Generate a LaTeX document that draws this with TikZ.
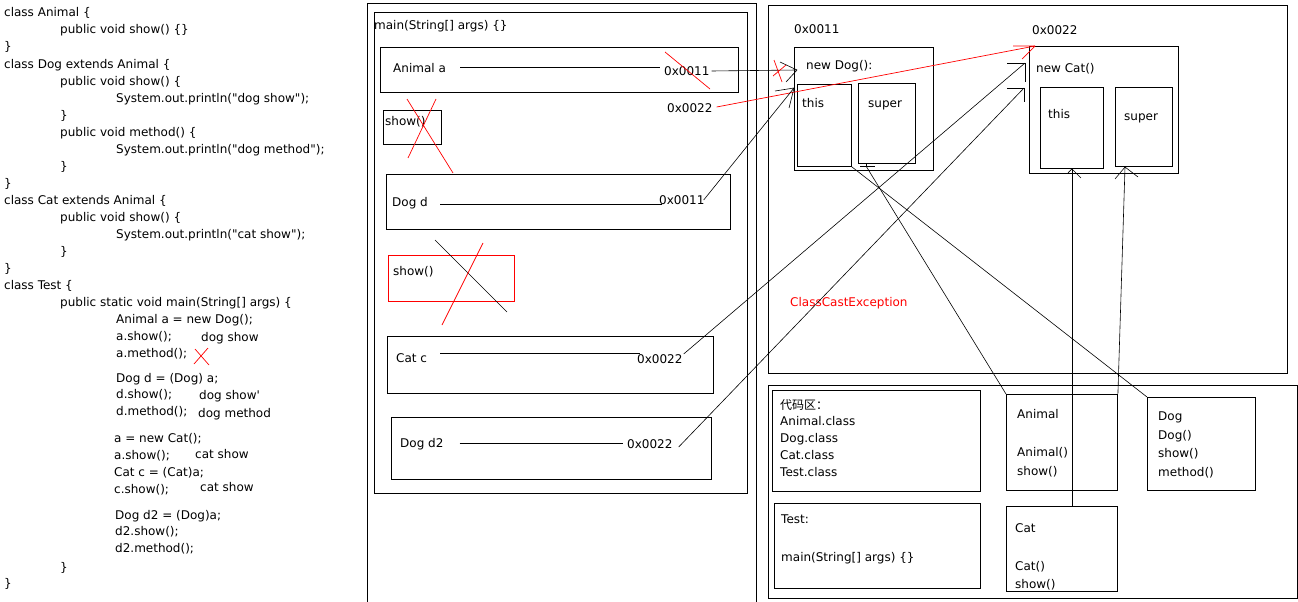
\documentclass[tikz,border=0pt]{standalone}
\usepackage{fontspec}
\setmainfont{DejaVu Sans}
\newfontfamily\cjkfont{Noto Sans CJK SC}
\begin{document}
\begin{tikzpicture}[x=1pt,y=-1pt,font=\fontsize{12}{14}\selectfont]

      \tikzset{box/.style={draw, line width=.9pt, inner sep=0pt, anchor=north west},
               redbox/.style={box, draw=red},
               txt/.style={inner sep=0pt, anchor=base west, text height=9pt, text depth=3pt},
               conn/.style={line width=.6pt},
               redconn/.style={line width=.7pt, red}}
      \useasboundingbox (0,0) rectangle (1298,602);
% Code
	%classes
      	\node[txt] (c1) at (4,17) {class Animal \{};
      	\node[txt] (c2) at (60,34) {public void show() \{\}};
      	\node[txt] (c3) at (4,51) {\}};
      	\node[txt] (c4) at (4,68) {class Dog extends Animal \{};
      	\node[txt] (c5) at (60,85) {public void show() \{};
      	\node[txt] (c6) at (116,102) {System.out.println(\textquotedbl dog show\textquotedbl);};
      	\node[txt] (c7) at (60,119) {\}};
      	\node[txt] (c8) at (60,136) {public void method() \{};
      	\node[txt] (c9) at (116,153) {System.out.println(\textquotedbl dog method\textquotedbl);};
      	\node[txt] (c10) at (60,170) {\}};
      	\node[txt] (c11) at (4,187) {\}};
      	\node[txt] (c12) at (4,204) {class Cat extends Animal \{};
      	\node[txt] (c13) at (60,221) {public void show() \{};
      	\node[txt] (c14) at (116,238) {System.out.println(\textquotedbl cat show\textquotedbl);};
      	\node[txt] (c15) at (60,255) {\}};
      	\node[txt] (c16) at (4,272) {\}};
	%main
      	\node[txt] (c17) at (4,289) {class Test \{};
      	\node[txt] (c18) at (60,306) {public static void main(String[] args) \{};
      	\node[txt] (c19) at (116,323) {Animal a = new Dog();};
      	\node[txt] (c20) at (116,340) {a.show();};
      	\node[txt] (c21) at (116,357) {a.method();};
      	\node[txt] (c22) at (116,382) {Dog d = (Dog) a;};
      	\node[txt] (c23) at (116,398) {d.show();};
      	\node[txt] (c24) at (116,415) {d.method();};
      	\node[txt] (c25) at (114,442) {a = new Cat();};
      	\node[txt] (c26) at (114,459) {a.show();};
      	\node[txt] (c27) at (114,476) {Cat c = (Cat)a;};
      	\node[txt] (c28) at (114,493) {c.show();};
      	\node[txt] (c29) at (115,519) {Dog d2 = (Dog)a;};
      	\node[txt] (c30) at (115,535) {d2.show();};
      	\node[txt] (c31) at (115,552) {d2.method();};
      	\node[txt] (c32) at (60,571) {\}};
      	\node[txt] (c33) at (4,587) {\}};
	%output
      	\node[txt] (o1) at (201,341) {dog show};
      	\node[txt] (o2) at (199,399) {dog show\textquotesingle};
      	\node[txt] (o3) at (198,417) {dog method};
      	\node[txt] (o4) at (195,458) {cat show};
      	\node[txt] (o5) at (200,491) {cat show};
      	\draw[redconn] (195,349) -- (209,365) (208,348) -- (194,364);
% Stack
      	\draw[line width=.9pt] (367,602) |- (756,3) -- (756,602);
      	\node[box, minimum width=373, minimum height=481] (frame) at (374,12) {};
      	\node[txt] (mainlbl) at (374,30) {main(String[] args) \{\}};
      	\node[box, minimum width=358, minimum height=45] (vara) at (380,47) {};
      	\node[txt] (aname) at (393,72) {Animal a};
      	\node[txt] (aval) at (664,76) {0x0011};
      	\node[txt] (aval2) at (667,112) {0x0022};
      	\node[box, minimum width=58, minimum height=34] (showabox) at (383,110) {};
      	\node[txt] (showa) at (385,125) {show()};
      	\node[box, minimum width=344, minimum height=55] (vard) at (386,174) {};
      	\node[txt] (dname) at (392,206) {Dog d};
      	\node[txt] (dval) at (659,204) {0x0011};
      	\node[redbox, minimum width=126, minimum height=46] (showdbox) at (388,255) {};
      	\node[txt] (showd) at (393,275) {show()};
      	\node[box, minimum width=326, minimum height=57] (varc) at (387,336) {};
      	\node[txt] (cname) at (396,362) {Cat c};
      	\node[txt] (cval) at (637,363) {0x0022};
      	\node[box, minimum width=320, minimum height=62] (vard2) at (391,417) {};
      	\node[txt] (d2name) at (400,447) {Dog d2};
      	\node[txt] (d2val) at (627,448) {0x0022};
% Heap
      	\node[box, minimum width=519, minimum height=368] (heap) at (768,5) {};
      	\node[txt] (dogaddr) at (794,34) {0x0011};
      	\node[box, minimum width=139, minimum height=123] (dogobj) at (794,47) {};
      	\node[txt] (newdog) at (806,70) {new Dog():};
      	\node[box, minimum width=54, minimum height=82] (dogthis) at (797,84) {};
      	\node[txt] (dogthislbl) at (802,107) {this};
      	\node[box, minimum width=57, minimum height=80] (dogsuper) at (858,83) {};
      	\node[txt] (dogsuperlbl) at (868,107) {super};
      	\node[txt] (cataddr) at (1032,35) {0x0022};
      	\node[box, minimum width=149, minimum height=127] (catobj) at (1029,46) {};
      	\node[txt] (newcat) at (1036,73) {new Cat()};
      	\node[box, minimum width=63, minimum height=81] (catthis) at (1040,87) {};
      	\node[txt] (catthislbl) at (1048,118) {this};
      	\node[box, minimum width=57, minimum height=79] (catsuper) at (1115,87) {};
      	\node[txt] (catsuperlbl) at (1124,120) {super};
      	\node[txt, red] (cce) at (790,306) {ClassCastException};
% Method area
      	\node[box, minimum width=529, minimum height=213] (methods) at (768,385) {};
      	\node[box, minimum width=208, minimum height=101] (codebox) at (772,390) {};
      	\node[txt] (code0) at (780,409) {\cjkfont 代码区：};
      	\node[txt] (code1) at (780,425) {Animal.class};
      	\node[txt] (code2) at (780,442) {Dog.class};
      	\node[txt] (code3) at (780,459) {Cat.class};
      	\node[txt] (code4) at (780,476) {Test.class};
      	\node[box, minimum width=206, minimum height=85] (testbox) at (774,503) {};
      	\node[txt] (testlbl) at (781,523) {Test:};
      	\node[txt] (testmain) at (781,561) {main(String[] args) \{\}};
      	\node[box, minimum width=111, minimum height=96] (animalcls) at (1006,394) {};
      	\node[txt] (animal1) at (1017,418) {Animal};
      	\node[txt] (animal2) at (1017,456) {Animal()};
      	\node[txt] (animal3) at (1017,475) {show()};
      	\node[box, minimum width=108, minimum height=93] (dogcls) at (1147,397) {};
      	\node[txt] (dog1) at (1158,420) {Dog};
      	\node[txt] (dog2) at (1158,439) {Dog()};
      	\node[txt] (dog3) at (1158,457) {show()};
      	\node[txt] (dog4) at (1158,476) {method()};
      	\node[box, minimum width=111, minimum height=85] (catcls) at (1006,506) {};
      	\node[txt] (cat1) at (1015,532) {Cat};
      	\node[txt] (cat2) at (1015,570) {Cat()};
      	\node[txt] (cat3) at (1015,588) {show()};
% Tips
      	\coordinate (tipA) at (797,70);
      	\coordinate (tipR) at (1035,46);
      	\coordinate (tipD) at (794,88);
      	\coordinate (tipC) at (1025,63);
      	\coordinate (tipC2) at (1024,88);
      	\coordinate (tipS) at (866,166);
      	\coordinate (tipCS) at (1125,167);
% Edges
	%inside the stack
		\path[conn] ([shift={(14,-2)}]aname.east) edge ([shift={(-4,-6)}]aval.west);
		\path[conn] ([shift={(12,1)}]dname.east) edge ([shift={(3,3)}]dval.west);
		\path[conn] ([shift={(13,-6)}]cname.east) edge ([shift={(3,-7)}]cval.west);
		\path[conn] ([shift={(16,-1)}]d2name.east) edge ([shift={(-4,-2)}]d2val.west);
	%stack to heap
		\path[conn] ([shift={(2,-2)}]aval.east) edge (tipA);
		\path[redconn] ([shift={(4,-2)}]aval2.east) edge (tipR);
		\path[conn] ([shift={(-1,-1)}]dval.east) edge (tipD);
		\path[conn] ([shift={(1,-6)}]cval.east) edge (tipC);
		\path[conn] ([shift={(6,2)}]d2val.east) edge (tipC2);
	%method area to heap
		\path[conn] (animalcls.north west) edge (tipS);
		\path[conn] (dogthis.south east) edge (dogcls.north west);
		\path[conn] (catcls.north -| catthis.south) edge (catthis.south);
		\path[conn] (animalcls.north east) edge (tipCS);
	%hand drawn tips
		\draw[conn] (tipA) -- ++(-17,-8) (tipA) -- ++(-11,12);
		\draw[redconn] (tipR) -- ++(-22,0) (tipR) -- ++(-13,13);
		\draw[conn] (tipD) -- ++(-19,3) (tipD) -- ++(-5,20);
		\draw[conn] (tipC) ++(-18,0) -- (tipC) -- ++(0,19);
		\draw[conn] (tipC2) ++(-17,0) -- (tipC2) -- ++(0,14);
		\draw[conn] (tipS) ++(-6,0) -- ++(15,0) (tipS) -- ++(0,-3);
		\draw[conn] (catthis.south) ++(-4,4) -- (catthis.south) -- ++(9,9);
		\draw[conn] (tipCS) -- ++(-10,12) (tipCS) -- ++(13,10);
	%crossed out
		\draw[redconn] (774,60) -- (782,82) (773,76) -- (786,65);
		\draw[redconn] (665,52) -- (710,89);
		\draw[redconn] (407,99) -- (453,173) (436,99) -- (408,158);
		\draw[conn] (435,240) -- (507,312);
		\draw[redconn] (483,243) -- (442,325);

	\end{tikzpicture}
\end{document}
